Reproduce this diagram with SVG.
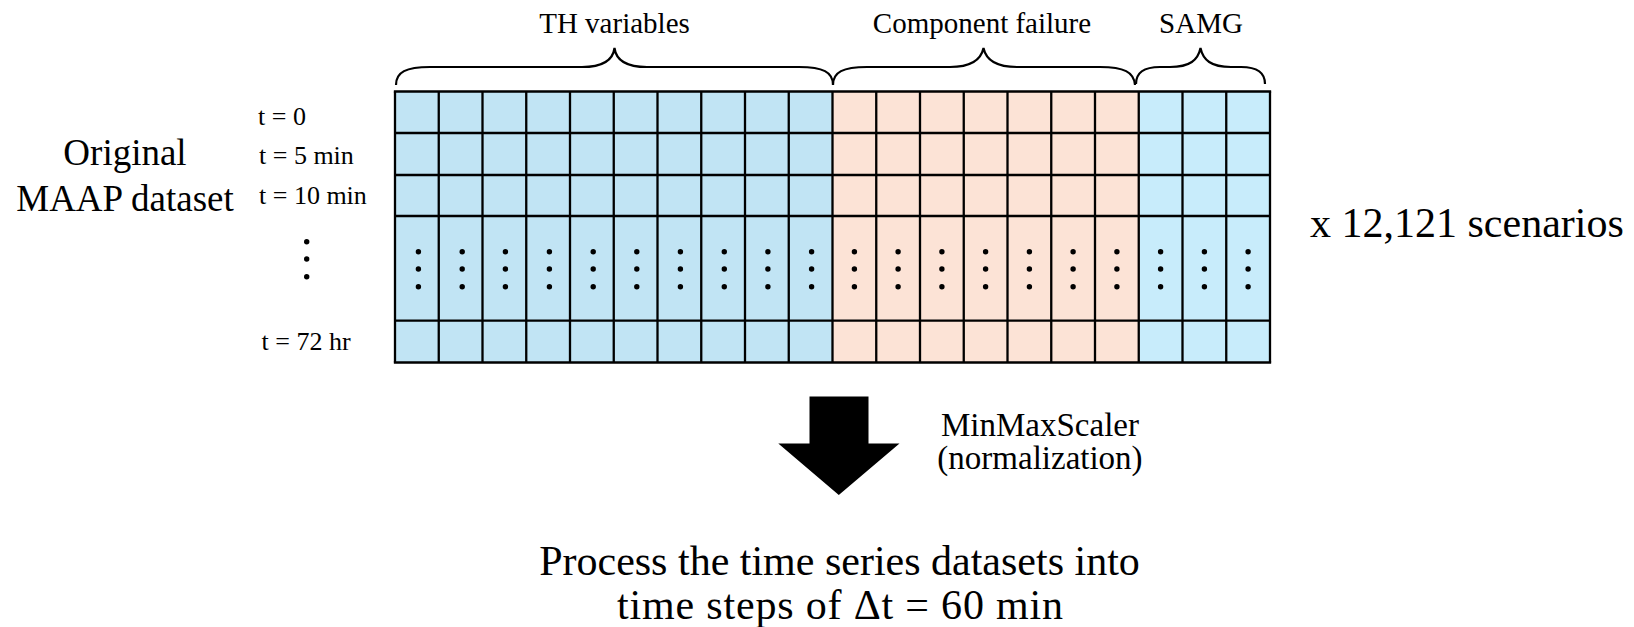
<svg xmlns="http://www.w3.org/2000/svg" xmlns:xlink="http://www.w3.org/1999/xlink" width="1634" height="627" viewBox="0 0 1634 627">
<style>
  text { font-family: "Liberation Serif", "Times New Roman", serif; fill: #000; }
  .lbl { font-size: 29px; text-anchor: middle; }
  .tl { font-size: 26px; }
  .big { font-size: 37px; text-anchor: middle; }
  .xl { font-size: 42px; }
  .grid { stroke: #000; stroke-width: 2.3; fill: none; }
  .brace { stroke: #000; stroke-width: 2.2; fill: none; }
</style>
<defs>
  <g id="vd">
    <circle cx="0" cy="251.7" r="2.7" fill="#000"/>
    <circle cx="0" cy="269" r="2.7" fill="#000"/>
    <circle cx="0" cy="286.7" r="2.7" fill="#000"/>
  </g>
</defs>
<rect x="0" y="0" width="1634" height="627" fill="#fff"/>

<g id="labels-left">
  <text class="big" x="125" y="165">Original</text>
  <text class="big" x="125" y="210.5">MAAP dataset</text>
</g>

<g id="time-labels">
  <text class="tl" x="258" y="125">t = 0</text>
  <text class="tl" x="259" y="164">t = 5 min</text>
  <text class="tl" x="259" y="203.5">t = 10 min</text>
  <circle cx="306.7" cy="241.7" r="2.7" fill="#000"/>
  <circle cx="306.7" cy="259" r="2.7" fill="#000"/>
  <circle cx="306.7" cy="276.7" r="2.7" fill="#000"/>
  <text class="tl" x="261.5" y="349.5">t = 72 hr</text>
</g>

<g id="group-labels">
  <text class="lbl" x="614.5" y="33">TH variables</text>
  <text class="lbl" x="982" y="33">Component failure</text>
  <text class="lbl" x="1201" y="33">SAMG</text>
  <path class="brace" d="M396,85 C396,72 406,67 430,67 L582,67 C603,67 613,60 614.5,48 C616,60 626,67 647,67 L799,67 C823,67 833,72 833,85"/>
  <path class="brace" d="M833,85 C833,72 843,67 867,67 L950,67 C971,67 981,60 983.5,48 C986,60 996,67 1017,67 L1100,67 C1124,67 1134,72 1135,85"/>
  <path class="brace" d="M1136,84 C1136,72 1144,67 1160,67 L1170,67 C1190,67 1198,60 1200.5,48 C1203,60 1211,67 1231,67 L1241,67 C1257,67 1265,72 1265,84"/>
</g>

<g id="data-grid">
  <rect x="395" y="91.5" width="437.5" height="271" fill="#C1E4F4"/>
  <rect x="832.5" y="91.5" width="306.25" height="271" fill="#FCE3D6"/>
  <rect x="1138.75" y="91.5" width="131.25" height="271" fill="#C8ECFB"/>
  <path class="grid" d="M395,91.5V362.5 M438.75,91.5V362.5 M482.5,91.5V362.5 M526.25,91.5V362.5 M570,91.5V362.5 M613.75,91.5V362.5 M657.5,91.5V362.5 M701.25,91.5V362.5 M745,91.5V362.5 M788.75,91.5V362.5 M832.5,91.5V362.5 M876.25,91.5V362.5 M920,91.5V362.5 M963.75,91.5V362.5 M1007.5,91.5V362.5 M1051.25,91.5V362.5 M1095,91.5V362.5 M1138.75,91.5V362.5 M1182.5,91.5V362.5 M1226.25,91.5V362.5 M1270,91.5V362.5"/>
  <path class="grid" d="M393.85,91.5H1271.15 M395,133H1270 M395,175H1270 M395,216H1270 M395,320.7H1270 M393.85,362.5H1271.15"/>
  <use xlink:href="#vd" x="418.4"/>
  <use xlink:href="#vd" x="462.2"/>
  <use xlink:href="#vd" x="505.4"/>
  <use xlink:href="#vd" x="549.4"/>
  <use xlink:href="#vd" x="593.2"/>
  <use xlink:href="#vd" x="636.8"/>
  <use xlink:href="#vd" x="680.4"/>
  <use xlink:href="#vd" x="724.3"/>
  <use xlink:href="#vd" x="767.9"/>
  <use xlink:href="#vd" x="811.6"/>
  <use xlink:href="#vd" x="854.4"/>
  <use xlink:href="#vd" x="898.1"/>
  <use xlink:href="#vd" x="941.9"/>
  <use xlink:href="#vd" x="985.6"/>
  <use xlink:href="#vd" x="1029.4"/>
  <use xlink:href="#vd" x="1073.1"/>
  <use xlink:href="#vd" x="1116.9"/>
  <use xlink:href="#vd" x="1160.6"/>
  <use xlink:href="#vd" x="1204.4"/>
  <use xlink:href="#vd" x="1248.1"/>
</g>

<g id="scenarios">
  <text class="xl" x="1310" y="236.5">x 12,121 scenarios</text>
</g>

<g id="connectors">
  <polygon points="809.5,396.5 868.5,396.5 868.5,443.5 899.5,443.5 838.8,495 778.3,443.5 809.5,443.5" fill="#000"/>
</g>

<g id="scaler-label">
  <text x="1040" y="436" style="font-size:33px;text-anchor:middle">MinMaxScaler</text>
  <text x="1040" y="469" style="font-size:33px;text-anchor:middle">(normalization)</text>
</g>

<g id="result">
  <text class="xl" x="839.5" y="575" text-anchor="middle">Process the time series datasets into</text>
  <text class="xl" x="617" y="619" textLength="446" lengthAdjust="spacing">time steps of Δt = 60 min</text>
</g>
</svg>
